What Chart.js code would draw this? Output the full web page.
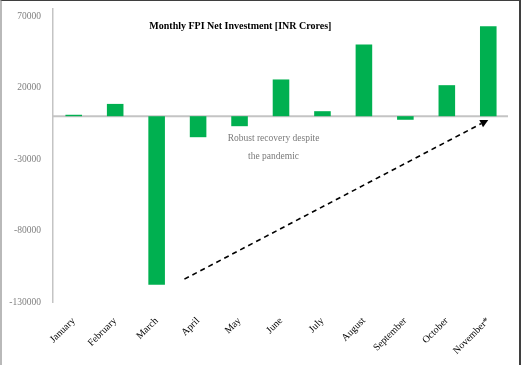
<!DOCTYPE html>
<html>
<head>
<meta charset="utf-8">
<script src="https://cdn.jsdelivr.net/npm/chart.js@4.4.1/dist/chart.umd.min.js"></script>
<style>
  html, body { margin: 0; padding: 0; background: #fff; overflow: hidden; }
  #wrap { position: relative; width: 522px; height: 365px; }
  canvas { display: block; }
  #frame {
    position: absolute; left: 0; top: 0; width: 521px; height: 365px;
    box-sizing: border-box; pointer-events: none;
    border-top: 1px solid #3f3f3f; border-left: 2px solid #b9b9b9; border-right: 2px solid #3f3f3f;
  }
</style>
</head>
<body>
<div id="wrap">
  <canvas id="chart" width="522" height="365"></canvas>
  <div id="frame"></div>
</div>
<script>
// Datos
const meses = ['January', 'February', 'March', 'April', 'May', 'June', 'July', 'August', 'September', 'October', 'November*'];
const inversionNeta = [1000, 8600, -118000, -14700, -7000, 25700, 3500, 50200, -2500, 21700, 63000];
const ticksY = [70000, 20000, -30000, -80000, -130000];
const titulo = 'Monthly FPI Net Investment [INR Crores]';
const nota = ['Robust recovery despite', 'the pandemic'];

// anotaciones en unidades del grafico (indice de categoria, valor)
const tituloPos = { x: 4.02, y: 63000 };
const notaPos = { x: 4.82, y: -15400, y2: -28200 };
const flechaDesde = { x: 2.67, y: -114000 };
const flechaHasta = { x: 10, y: -2600 };

const serif = "'Liberation Serif', 'DejaVu Serif', serif";

const anotaciones = {
  id: 'anotaciones',
  beforeDatasetsDraw(chart) {
    // linea del cero
    const { ctx, chartArea, scales } = chart;
    const y0 = scales.y.getPixelForValue(0);
    ctx.save();
    ctx.strokeStyle = '#c4c4c4';
    ctx.lineWidth = 2;
    ctx.beginPath();
    ctx.moveTo(chartArea.left, y0);
    ctx.lineTo(chartArea.right - 1, y0);
    ctx.stroke();
    ctx.restore();
  },
  afterDatasetsDraw(chart) {
    const { ctx, scales } = chart;
    const px = v => scales.x.getPixelForValue(v);
    const py = v => scales.y.getPixelForValue(v);
    ctx.save();

    // titulo
    ctx.fillStyle = '#000';
    ctx.font = 'bold 10px ' + serif;
    ctx.textAlign = 'center';
    ctx.textBaseline = 'middle';
    ctx.fillText(titulo, px(tituloPos.x), py(tituloPos.y));

    // nota
    ctx.fillStyle = '#7a7a7a';
    ctx.font = '9.5px ' + serif;
    ctx.fillText(nota[0], px(notaPos.x), py(notaPos.y));
    ctx.fillText(nota[1], px(notaPos.x), py(notaPos.y2));

    // flecha discontinua
    const x1 = px(flechaDesde.x), y1 = py(flechaDesde.y);
    const x2 = px(flechaHasta.x), y2 = py(flechaHasta.y);
    const ang = Math.atan2(y2 - y1, x2 - x1);
    const largo = 8;
    ctx.strokeStyle = '#000';
    ctx.lineWidth = 1.6;
    ctx.setLineDash([5, 4]);
    ctx.beginPath();
    ctx.moveTo(x1, y1);
    ctx.lineTo(x2 - largo * Math.cos(ang), y2 - largo * Math.sin(ang));
    ctx.stroke();
    ctx.setLineDash([]);
    ctx.fillStyle = '#000';
    ctx.beginPath();
    ctx.moveTo(x2, y2);
    ctx.lineTo(x2 - largo * Math.cos(ang) + 4 * Math.sin(ang), y2 - largo * Math.sin(ang) - 4 * Math.cos(ang));
    ctx.lineTo(x2 - largo * Math.cos(ang) - 4 * Math.sin(ang), y2 - largo * Math.sin(ang) + 4 * Math.cos(ang));
    ctx.closePath();
    ctx.fill();
    ctx.restore();
  }
};

const ctx = document.getElementById('chart').getContext('2d');
const chart = new Chart(ctx, {
  type: 'bar',
  data: {
    labels: meses,
    datasets: [{
      label: 'FPI',
      data: inversionNeta,
      backgroundColor: '#00b050',
      borderWidth: 0,
      barPercentage: 1,
      categoryPercentage: 0.4
    }]
  },
  options: {
    responsive: false,
    animation: false,
    layout: { padding: { left: 3, top: 9, right: 13, bottom: 0 } },
    plugins: {
      legend: { display: false },
      title: { display: false },
      tooltip: { enabled: false }
    },
    scales: {
      x: {
        grid: { display: false, drawTicks: false },
        border: { display: false },
        ticks: {
          color: '#000',
          font: { family: serif, size: 10 },
          minRotation: 45,
          maxRotation: 45,
          padding: 13,
          autoSkip: false
        },
        afterFit(s) {
          s.height = 63;
          s.paddingLeft = 0; s.paddingRight = 0;
        }
      },
      y: {
        min: -130000,
        max: 75000,
        grid: { display: false, drawTicks: false },
        border: { display: true, color: '#c4c4c4', width: 1.5 },
        afterBuildTicks(s) { s.ticks = ticksY.map(v => ({ value: v })); },
        ticks: {
          color: '#808080',
          font: { family: serif, size: 9.5 },
          padding: 12,
          callback: v => String(v)
        },
        afterFit(s) {
          s.width = 50;
          s.paddingTop = 0; s.paddingBottom = 0;
        }
      }
    }
  },
  plugins: [anotaciones]
});
</script>
</body>
</html>
